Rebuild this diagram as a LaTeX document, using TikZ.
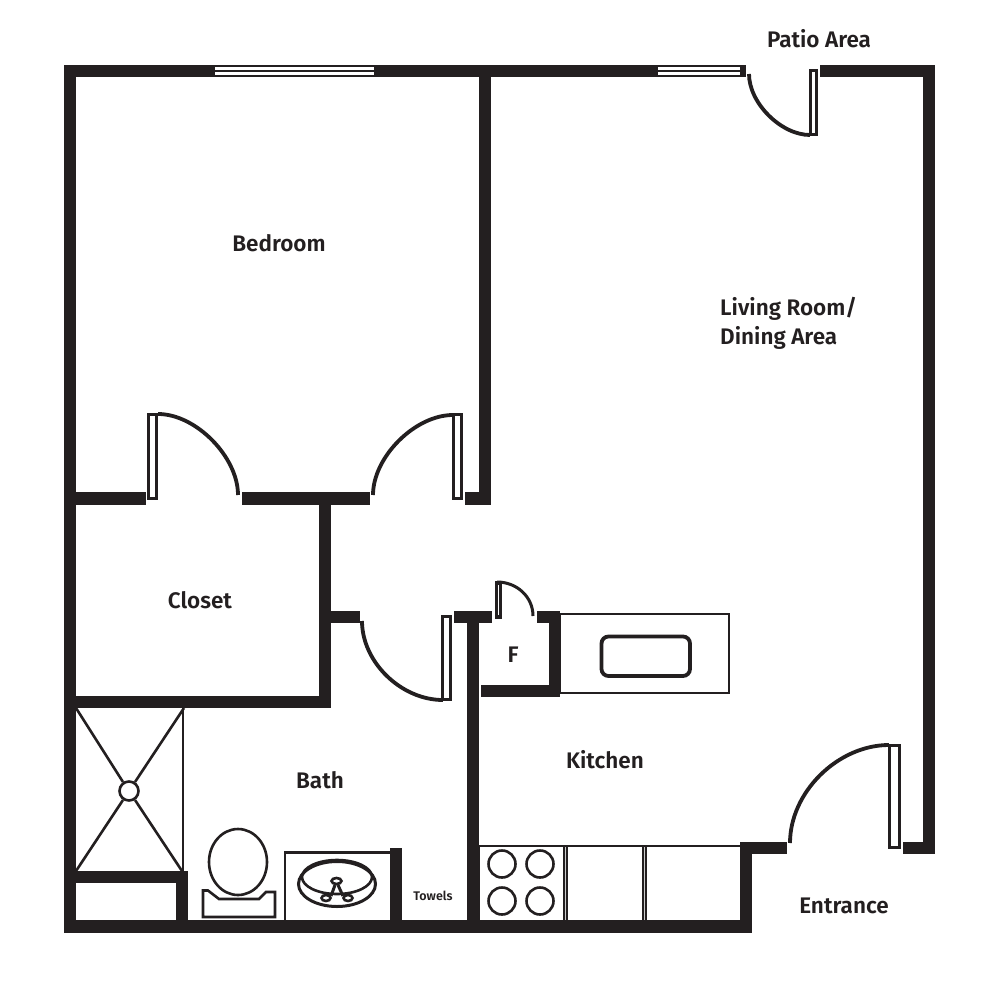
\documentclass[tikz,border=0pt]{standalone}
\usepackage{fontspec}
\setmainfont{Fira Sans}[UprightFont=* SemiBold]
\definecolor{wallc}{HTML}{231F20}
\tikzset{
 x=1pt,y=-1pt,
 wall/.style={fill=wallc,draw=none},
 thin line/.style={draw=wallc,line width=2pt},
 mid line/.style={draw=wallc,line width=2.6pt},
 leaf/.style={draw=wallc,line width=3.4pt,fill=white},
 swing/.style={draw=wallc,line width=3.8pt},
 pane/.style={fill=white,draw=none},
 label/.style={text=wallc,font=\fontsize{22.5}{28}\selectfont,inner sep=0pt},
 fixture/.style={draw=wallc,line width=2.6pt,fill=white},
}
\begin{document}
\begin{tikzpicture}
\useasboundingbox (0,0) rectangle (1000,1000);
\fill[white] (0,0) rectangle (1000,1000);
% counter island and fixtures beneath the walls
\draw[thin line] (560,614) rectangle (729,693);
\draw[draw=wallc,line width=3.8pt,rounded corners=7pt] (601.5,636.5) rectangle (690,676);
\draw[thin line] (479,845.5) -- (740,845.5);
\draw[thin line] (479,920) -- (479,845);
\fill[wallc] (563,845) rectangle (567.5,920);
\fill[gray!40] (564.9,847) rectangle (565.6,920);
\fill[wallc] (642,845) rectangle (646.5,920);
\fill[gray!40] (643.9,847) rectangle (644.6,920);
\foreach \cx in {502,540} \foreach \cy in {864,901}
  \draw[mid line] (\cx,\cy) circle (13.5);
% shower
\draw[thin line] (183,708) -- (183,872);
\draw[mid line] (76,708) -- (123,782);
\draw[mid line] (184,708) -- (135,782);
\draw[mid line] (76,871) -- (123,800);
\draw[mid line] (182,871) -- (135,800);
\draw[mid line] (129,791) circle (9.5);
% toilet
\draw[fixture] (238,862) ellipse (29 and 33);
\draw[fixture] (203,890.5) -- (208,890.5) -- (219,899) -- (259,899) -- (266,892) -- (275,892) -- (275,917) -- (203,917) -- cycle;
% vanity
\draw[mid line] (285,920) -- (285,852.5) -- (390,852.5);
\draw[fixture,line width=3pt] (337,884) ellipse (38.5 and 22.5);
\begin{scope}
\clip (290,850) rectangle (380,897);
\draw[mid line] (337,877) ellipse (35 and 17);
\end{scope}
\draw[mid line] (326,898) ellipse (4.5 and 3);
\draw[mid line] (348,898) ellipse (4.5 and 3);
\draw[draw=wallc,line width=3pt] (331,896) -- (335,885);
\draw[draw=wallc,line width=3pt] (343,896) -- (338,885);
\draw[fixture] (336.5,881) ellipse (5 and 3);
% walls
\fill[wall] (64,65) rectangle (746,77);
\fill[wall] (820,65) rectangle (935,77);
\fill[wall] (923,65) rectangle (935,854);
\fill[wall] (903,842) rectangle (935,854);
\fill[wall] (64,65) rectangle (76,933);
\fill[wall] (64,920) rectangle (752,933);
\fill[wall] (740,842) rectangle (752,933);
\fill[wall] (740,842) rectangle (787,854);
\fill[wall] (479,77) rectangle (491,505);
\fill[wall] (465,492) rectangle (491,505);
\fill[wall] (64,492) rectangle (146,505);
\fill[wall] (242,492) rectangle (370,505);
\fill[wall] (319,492) rectangle (331,708);
\fill[wall] (64,696) rectangle (331,708);
\fill[wall] (331,611) rectangle (360,623);
\fill[wall] (454,611) rectangle (492,623);
\fill[wall] (467,611) rectangle (479,933);
\fill[wall] (537,611) rectangle (560,623);
\fill[wall] (549,611) rectangle (560,697);
\fill[wall] (481,685) rectangle (560,697);
\fill[wall] (64,871) rectangle (188,883);
\fill[wall] (176,871) rectangle (188,920);
\fill[wall] (390,848) rectangle (402,920);
% windows
\fill[pane] (215,67.5) rectangle (374,70.5);
\fill[pane] (215,72) rectangle (374,75.5);
\fill[pane] (658,67.5) rectangle (740,70.5);
\fill[pane] (658,72) rectangle (740,75.5);
% doors
\draw[leaf] (148.7,414.7) rectangle (156.3,498.3);
\draw[leaf] (453.7,414.7) rectangle (461.3,498.3);
\draw[leaf] (442.7,616.7) rectangle (450.3,699.3);
\draw[leaf] (496.7,583) rectangle (500.3,617);
\draw[leaf] (810.7,70.7) rectangle (816.3,134.3);
\draw[leaf] (889.7,745.7) rectangle (899.3,847.3);
\draw[swing] (158,414) .. controls (196,414) and (238,457) .. (238,495);
\draw[swing] (453,415) .. controls (415,415) and (373,457) .. (373,495);
\draw[swing] (362,621) .. controls (362,662) and (401,700) .. (443,700);
\draw[swing,line width=3pt] (497,582) .. controls (517,582) and (533,597) .. (533,616);
\draw[swing] (749,74) .. controls (749,103) and (781,135) .. (810,135);
\draw[swing] (790,843) .. controls (790,792) and (838,745) .. (889,745);
% labels
\node[label] (patio) at (819,39) {Patio Area};
\node[label] (bedroom) at (279,243) {Bedroom};
\node[label,anchor=west] (living) at (720,309) {Living Room/};
\node[label,anchor=west] (dining) at (720,338) {Dining Area};
\node[label] (closet) at (200,600) {Closet};
\node[label] (f) at (513,655) {F};
\node[label] (bath) at (320,780) {Bath};
\node[label] (kitchen) at (605,760) {Kitchen};
\node[label] (entrance) at (844,906) {Entrance};
\node[label,font=\fontsize{12.5}{15}\selectfont] (towels) at (433,896) {Towels};
\end{tikzpicture}
\end{document}
